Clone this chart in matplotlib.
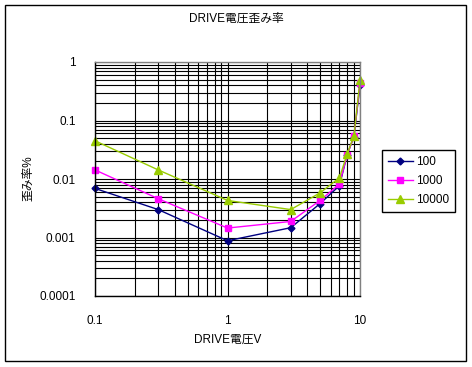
import matplotlib
matplotlib.use("Agg")
import matplotlib.pyplot as plt
from matplotlib.patches import Rectangle
from matplotlib.ticker import LogLocator, FixedLocator, FixedFormatter, NullFormatter

plt.rcParams['font.family'] = ['Liberation Sans', 'Noto Sans CJK JP', 'DejaVu Sans']

# ---- data ----
x_volts = [0.1, 0.3, 1, 3, 5, 7, 8, 9, 10]
series_names = ['100', '1000', '10000']
dist_100 = [0.0069, 0.0030, 0.00088, 0.00147, 0.0038, 0.0077, 0.026, 0.053, 0.40]
dist_1000 = [0.0143, 0.0046, 0.00145, 0.00188, 0.0043, 0.0082, 0.026, 0.054, 0.44]
dist_10000 = [0.045, 0.0143, 0.0043, 0.0030, 0.0058, 0.0105, 0.027, 0.054, 0.49]
y_ticks = [1, 0.1, 0.01, 0.001, 0.0001]
y_tick_labels = ['1', '0.1', '0.01', '0.001', '0.0001']
x_ticks = [0.1, 1, 10]
x_tick_labels = ['0.1', '1', '10']
title = 'DRIVE電圧歪み率'
x_label = 'DRIVE電圧V'
y_label = '歪み率%'

W, H = 472, 367
fig = plt.figure(figsize=(W / 100, H / 100), dpi=100)

# chart area border
fig.patches.append(Rectangle((5 / W, 1 - 361 / H), (466 - 5) / W, (361 - 5) / H,
                             transform=fig.transFigure, fill=False,
                             edgecolor='black', linewidth=1.0))

ax = fig.add_axes([95 / W, 1 - 296 / H, (360 - 95) / W, (296 - 62) / H])
ax.set_xscale('log')
ax.set_yscale('log')
ax.set_xlim(0.1, 10)
ax.set_ylim(0.0001, 1)

ax.yaxis.set_major_locator(FixedLocator(y_ticks))
ax.yaxis.set_major_formatter(FixedFormatter(y_tick_labels))
ax.yaxis.set_minor_locator(LogLocator(base=10, subs=range(2, 10), numticks=20))
ax.yaxis.set_minor_formatter(NullFormatter())
ax.xaxis.set_major_locator(FixedLocator(x_ticks))
ax.xaxis.set_major_formatter(FixedFormatter(x_tick_labels))
ax.xaxis.set_minor_locator(LogLocator(base=10, subs=range(2, 10), numticks=20))
ax.xaxis.set_minor_formatter(NullFormatter())

ax.grid(True, which='both', color='black', linewidth=0.8)
ax.set_axisbelow(True)
ax.tick_params(which='both', length=0)
ax.tick_params(axis='y', pad=14, labelsize=8.5)
ax.tick_params(axis='x', pad=14, labelsize=8.5)

for side in ['top', 'right']:
    ax.spines[side].set_color('#808080')
for side in ['left', 'bottom']:
    ax.spines[side].set_color('black')
for s in ax.spines.values():
    s.set_linewidth(1.0)

l1, = ax.plot(x_volts, dist_100, color='#000080', marker='D', markersize=3.5,
              linewidth=1.0, label=series_names[0], clip_on=False)
l2, = ax.plot(x_volts, dist_1000, color='#FF00FF', marker='s', markersize=4.5,
              linewidth=1.0, label=series_names[1], clip_on=False)
l3, = ax.plot(x_volts, dist_10000, color='#99CC00', marker='^', markersize=5.5,
              linewidth=1.0, label=series_names[2], clip_on=False)

fig.text(236 / W, 1 - 19 / H, title, ha='center', va='center', fontsize=8.5)
fig.text(228 / W, 1 - 340 / H, x_label, ha='center', va='center', fontsize=8.5)
fig.text(28 / W, 1 - 178 / H, y_label, ha='center', va='center', rotation=90, fontsize=8.5)

leg = fig.legend(handles=[l1, l2, l3], loc='upper left',
                 bbox_to_anchor=(382 / W, 1 - 150 / H), fontsize=8.5,
                 frameon=True, fancybox=False, framealpha=1, edgecolor='black',
                 handlelength=2.1, borderpad=0.5, labelspacing=0.6, handletextpad=0.3,
                 borderaxespad=0)
leg.get_frame().set_linewidth(1.0)

fig.savefig('out.png', dpi=100)
